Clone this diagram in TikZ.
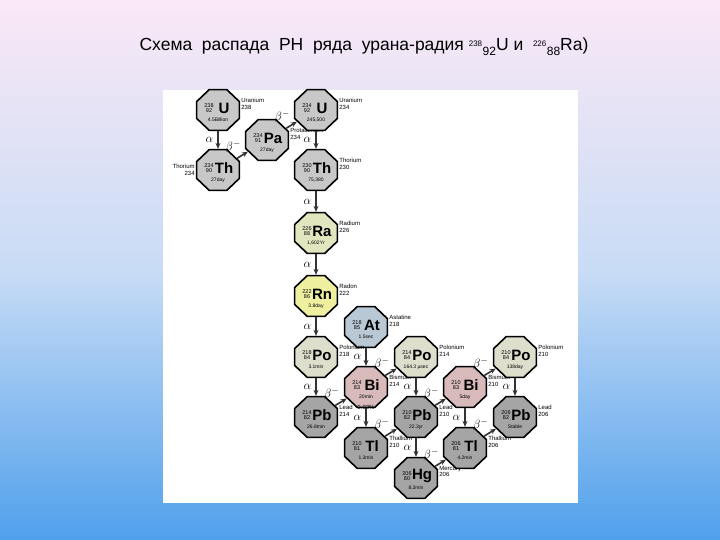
\documentclass[tikz,border=0pt]{standalone}
\usepackage{fontspec}
\setmainfont{Liberation Sans}
\usetikzlibrary{shapes.geometric,arrows.meta}
\definecolor{cgray}{RGB}{200,200,200}
\definecolor{cdark}{RGB}{165,165,165}
\definecolor{cra}{RGB}{226,230,190}
\definecolor{crn}{RGB}{238,240,160}
\definecolor{cat}{RGB}{184,200,212}
\definecolor{cpo}{RGB}{222,222,204}
\definecolor{cbi}{RGB}{216,186,186}
\tikzset{
 oct/.style={regular polygon,regular polygon sides=8,minimum size=44pt,xscale=1.05,draw=black,line width=1.6pt,inner sep=0pt},
 dec/.style={-{Stealth[length=6pt,width=5pt]},line width=1.6pt,draw=black!80},
 lab/.style={font=\itshape\fontsize{13}{13}\selectfont,inner sep=1pt},
 side/.style={font=\fontsize{6}{6.5}\selectfont,align=left,inner sep=0pt}
}
\newcommand\nuc[9]{%
 \node[oct,fill=#4] (#1) at (#2,#3) {};
 \node[font=\fontsize{5.5}{5.5}\selectfont,align=center,inner sep=0pt] at ([xshift=-9pt,yshift=2pt]#1.center) {#5\\#6};
 \node[font=\bfseries\fontsize{15}{15}\selectfont,inner sep=0pt] at ([xshift=6pt,yshift=2pt]#1.center) {#7};
 \node[font=\fontsize{5}{5}\selectfont,inner sep=0pt] at ([yshift=-10pt]#1.center) {#8};
 \node[side,anchor=north west] at ([xshift=1pt,yshift=12pt]#1.east) {#9};}
\begin{document}
\begin{tikzpicture}[x=1pt,y=-1pt]
\shade[top color={rgb,255:red,250;green,232;blue,246},bottom color={rgb,255:red,80;green,160;blue,236},middle color={rgb,255:red,200;green,220;blue,245}] (0,0) rectangle (720,540);
\useasboundingbox (0,0) rectangle (720,540);
\node[font=\fontsize{17.5}{17.5}\selectfont] (title) at (364,47) {Схема\ \ распада\ \ РН\ \ ряда\ \ урана-радия {\fontsize{12}{12}\selectfont\textsuperscript{238}\raisebox{-5pt}{92}}U и \ {\fontsize{12}{12}\selectfont\textsuperscript{226}\raisebox{-5pt}{88}}Ra)};
\fill[white] (163,90) rectangle (578,503);
\nuc{u238}{218}{110}{cgray}{238}{92}{U}{4.5Billion}{Uranium\\238}
\nuc{th234}{218}{170}{cgray}{234}{90}{Th}{27day}{}
\node[side,anchor=east,align=right] at ([xshift=-1pt]th234.west) {Thorium\\234};
\nuc{pa}{267}{140}{cgray}{234}{91}{Pa}{27day}{Protactinium\\234}
\nuc{u234}{316}{110}{cgray}{234}{92}{U}{245,500}{Uranium\\234}
\nuc{th230}{316}{170}{cgray}{230}{90}{Th}{75,380}{Thorium\\230}
\nuc{ra}{316}{233}{cra}{226}{88}{Ra}{1,602Yr}{Radium\\226}
\nuc{rn}{316}{296}{crn}{222}{86}{Rn}{3.8day}{Radon\\222}
\nuc{at}{366}{327}{cat}{218}{85}{At}{1.5sec}{Astatine\\218}
\nuc{po218}{316}{357}{cpo}{218}{84}{Po}{3.1min}{Polonium\\218}
\nuc{pb214}{316}{417}{cdark}{214}{82}{Pb}{26.8min}{Lead\\214}
\nuc{bi214}{366}{387}{cbi}{214}{83}{Bi}{20min}{Bismuth\\214}
\nuc{po214}{416}{357}{cpo}{214}{84}{Po}{164.3 µsec}{Polonium\\214}
\nuc{tl210}{366}{448}{cdark}{210}{81}{Tl}{1.3min}{Thallium\\210}
\nuc{pb210}{416}{417}{cdark}{210}{82}{Pb}{22.3yr}{Lead\\210}
\nuc{bi210}{465}{387}{cbi}{210}{83}{Bi}{5day}{Bismuth\\210}
\nuc{hg}{416}{478}{cdark}{206}{80}{Hg}{8.2min}{Mercury\\206}
\nuc{tl206}{465}{448}{cdark}{206}{81}{Tl}{4.2min}{Thallium\\206}
\nuc{po210}{515}{357}{cpo}{210}{84}{Po}{138day}{Polonium\\210}
\nuc{pb206}{515}{417}{cdark}{206}{82}{Pb}{Stable}{Lead\\206}
\node[side] at (366,407) {0.02\%};
\foreach \a/\b in {u238/th234,u234/th230,th230/ra,ra/rn,rn/po218,po218/pb214,at/bi214,bi214/tl210,po214/pb210,pb210/hg,bi210/tl206,po210/pb206}
 \draw[dec] (\a) -- (\b) node[lab,midway,left=3pt] {$\alpha$};
\foreach \a/\b in {th234/pa,pa/u234,pb214/bi214,bi214/po214,tl210/pb210,pb210/bi210,hg/tl206,bi210/po210,tl206/pb206}
 \draw[dec] (\a) -- (\b) node[lab,midway,above left=0pt] {$\beta^-$};
\end{tikzpicture}
\end{document}
